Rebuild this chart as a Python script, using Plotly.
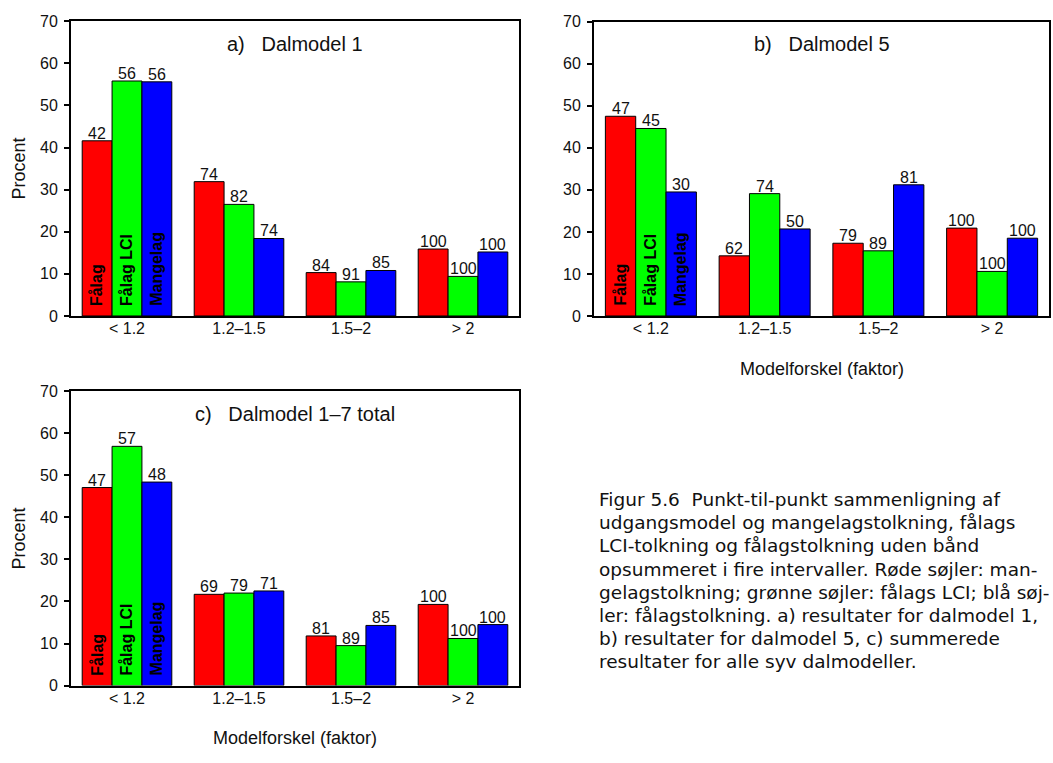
import plotly.graph_objects as go

W, H = 1053, 763

categories = ["< 1.2", "1.2–1.5", "1.5–2", "> 2"]
series_names = ["Fålag", "Fålag LCI", "Mangelag"]
series_colors = ["#ff0000", "#00ff00", "#0000ff"]

# Panel a) Dalmodel 1
a_falag = [41.6, 31.9, 10.3, 15.9]
a_lci = [55.8, 26.5, 8.1, 9.4]
a_mange = [55.6, 18.4, 10.8, 15.2]
a_falag_lbl = [42, 74, 84, 100]
a_lci_lbl = [56, 82, 91, 100]
a_mange_lbl = [56, 74, 85, 100]

# Panel b) Dalmodel 5
b_falag = [47.5, 14.3, 17.3, 20.9]
b_lci = [44.6, 29.1, 15.5, 10.6]
b_mange = [29.5, 20.7, 31.2, 18.5]
b_falag_lbl = [47, 62, 79, 100]
b_lci_lbl = [45, 74, 89, 100]
b_mange_lbl = [30, 50, 81, 100]

# Panel c) Dalmodel 1-7 total
c_falag = [47.1, 21.7, 11.8, 19.3]
c_lci = [56.9, 22.0, 9.5, 11.2]
c_mange = [48.4, 22.5, 14.3, 14.5]
c_falag_lbl = [47, 69, 81, 100]
c_lci_lbl = [57, 79, 89, 100]
c_mange_lbl = [48, 71, 85, 100]

titles = ["a)   Dalmodel 1", "b)   Dalmodel 5", "c)   Dalmodel 1–7 total"]
y_title = "Procent"
x_title = "Modelforskel (faktor)"
caption_lines = [
    "Figur 5.6  Punkt-til-punkt sammenligning af",
    "udgangsmodel og mangelagstolkning, fålags",
    "LCI-tolkning og fålagstolkning uden bånd",
    "opsummeret i fire intervaller. Røde søjler: man-",
    "gelagstolkning; grønne søjler: fålags LCI; blå søj-",
    "ler: fålagstolkning. a) resultater for dalmodel 1,",
    "b) resultater for dalmodel 5, c) summerede",
    "resultater for alle syv dalmodeller.",
]

FONT = "Liberation Sans, Arial, sans-serif"
BARW = 0.8 / 3


def px(x):
    return x / W


def py(y):
    return 1 - y / H


panels = [
    dict(vals=[a_falag, a_lci, a_mange], lbls=[a_falag_lbl, a_lci_lbl, a_mange_lbl],
         box=(71, 519, 13.5, 315), ytitle=True, xtitle=False),
    dict(vals=[b_falag, b_lci, b_mange], lbls=[b_falag_lbl, b_lci_lbl, b_mange_lbl],
         box=(594, 1049, 14, 315), ytitle=False, xtitle=True),
    dict(vals=[c_falag, c_lci, c_mange], lbls=[c_falag_lbl, c_lci_lbl, c_mange_lbl],
         box=(71, 519, 392, 693), ytitle=True, xtitle=True),
]

fig = go.Figure()
annotations = []
layout_axes = {}

for i, p in enumerate(panels):
    k = "" if i == 0 else str(i + 1)
    xa, ya = "x" + k, "y" + k
    x0, x1, y0, y1 = p["box"]
    for s in range(3):
        fig.add_trace(go.Bar(
            x=categories, y=p["vals"][s], name=series_names[s],
            marker=dict(color=series_colors[s], line=dict(color="black", width=1)),
            xaxis=xa, yaxis=ya, showlegend=False, offsetgroup=str(s),
        ))
        for ci, (v, lbl) in enumerate(zip(p["vals"][s], p["lbls"][s])):
            annotations.append(dict(
                text=str(lbl), x=ci + (s - 1) * BARW, y=v, xref=xa, yref=ya,
                xanchor="center", yanchor="bottom", yshift=-3, showarrow=False,
                font=dict(family=FONT, size=16, color="#111"),
            ))
    layout_axes["xaxis" + k] = dict(
        domain=[px(x0), px(x1)], anchor=ya, type="category",
        showline=True, linewidth=2, linecolor="black", mirror=True,
        ticks="", showgrid=False, zeroline=False,
        tickfont=dict(family=FONT, size=16, color="#111"),
        ticklabelstandoff=-3,
    )
    layout_axes["yaxis" + k] = dict(
        domain=[py(y1), py(y0)], anchor=xa, range=[0, 70], dtick=10,
        showline=True, linewidth=2, linecolor="black", mirror=True,
        ticks="outside", ticklen=5, tickwidth=1.5, tickcolor="black",
        showgrid=False, zeroline=False,
        tickfont=dict(family=FONT, size=16, color="#111"),
        ticklabelstandoff=3,
    )
    cx = (x0 + x1) / 2
    annotations.append(dict(
        text=titles[i], x=px(cx), y=py(y0 + 23), xref="paper", yref="paper",
        xanchor="center", yanchor="middle", showarrow=False,
        font=dict(family=FONT, size=20, color="#111"),
    ))
    if p["ytitle"]:
        annotations.append(dict(
            text=y_title, x=px(19), y=py((y0 + y1) / 2), xref="paper", yref="paper",
            xanchor="center", yanchor="middle", textangle=-90, showarrow=False,
            font=dict(family=FONT, size=18, color="#111"),
        ))
    if p["xtitle"]:
        annotations.append(dict(
            text=x_title, x=px(cx), y=py(y1 + 54), xref="paper", yref="paper",
            xanchor="center", yanchor="middle", showarrow=False,
            font=dict(family=FONT, size=18, color="#111"),
        ))
    for s in range(3):
        annotations.append(dict(
            text="<b>" + series_names[s] + "</b>", x=(s - 1) * BARW, y=0,
            xref=xa, yref=ya, xanchor="center", yanchor="bottom", yshift=8,
            textangle=-90, showarrow=False,
            font=dict(family=FONT, size=16, color="black"),
        ))

for j, line in enumerate(caption_lines):
    annotations.append(dict(
        text=line, x=px(597), y=py(503 + 23.6 * j), xref="paper", yref="paper",
        xanchor="left", yanchor="middle", showarrow=False,
        font=dict(family="DejaVu Sans, sans-serif", size=18.5, color="#111"),
    ))

fig.update_layout(
    width=W, height=H, margin=dict(l=0, r=0, t=0, b=0),
    paper_bgcolor="white", plot_bgcolor="white",
    barmode="group", bargap=0.2, bargroupgap=0,
    annotations=annotations, **layout_axes,
)

fig.write_html("out.html")
